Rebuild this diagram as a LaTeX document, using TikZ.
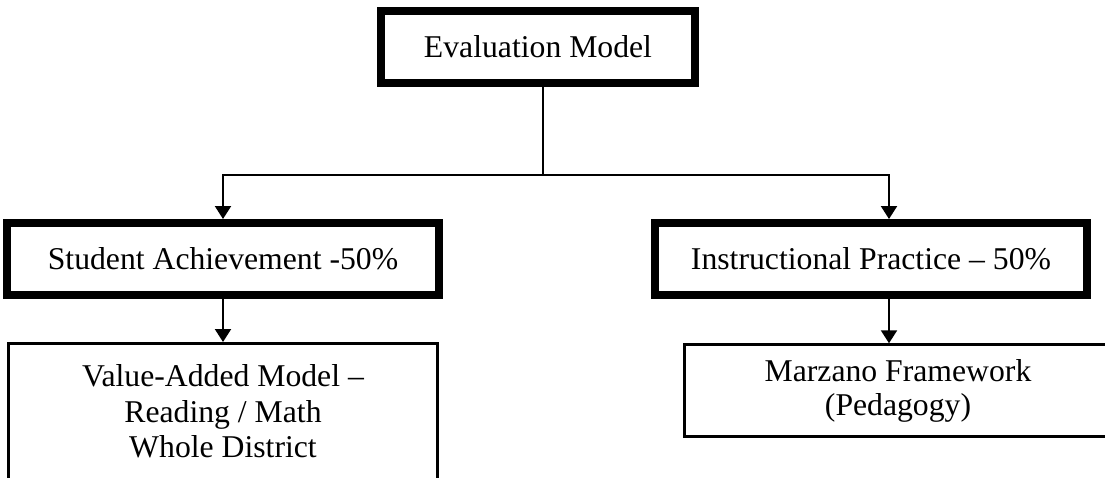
\documentclass[tikz,border=0pt]{standalone}
\usepackage{fontspec}
\setmainfont{Liberation Serif}
\usetikzlibrary{arrows.meta}

\begin{document}
\begin{tikzpicture}[x=1pt,y=-1pt,
  every node/.style={font=\fontsize{31.7}{34}\selectfont,align=center,inner sep=0pt},
  thickbox/.style={draw,line width=8pt,minimum width=432pt,minimum height=72pt},
  thinbox/.style={draw,line width=2.5pt},
  arr/.style={line width=2.2pt,-{Triangle[length=13pt,width=16pt]}}]
	\useasboundingbox (0,0) rectangle (1105,477);
	\clip (0,0) rectangle (1105,477);

	\node[thickbox,minimum width=314pt] (nEval) at (538,47) {Evaluation Model};
	\node[thickbox] (nStud) at (223,259) {Student Achievement -50\%};
	\node[thickbox] (nInst) at (871,259) {Instructional Practice -- 50\%};
	\node[thinbox,anchor=north,minimum width=429pt,inner ysep=21.5pt,text depth=150pt,
		font=\fontsize{31.7}{35.5}\selectfont] (nVal) at (223,342)
		{Value-Added Model --\\Reading / Math\\Whole District};
	\node[thinbox,minimum width=427pt,minimum height=92pt] (nMarz) at (898,390.5)
		{Marzano Framework\\(Pedagogy)};

	\coordinate (split) at (543,175);
	\coordinate (rDrop) at (889,175);

	\draw[arr] (nEval.south -| split) -- (split) -| (nStud.north);
	\draw[arr] (split) -- (rDrop) -- (nInst.north -| rDrop);
	\draw[arr] (nStud) -- (nVal);
	\draw[arr] (nInst.south -| rDrop) -- (nMarz.north -| rDrop);
\end{tikzpicture}
\end{document}
